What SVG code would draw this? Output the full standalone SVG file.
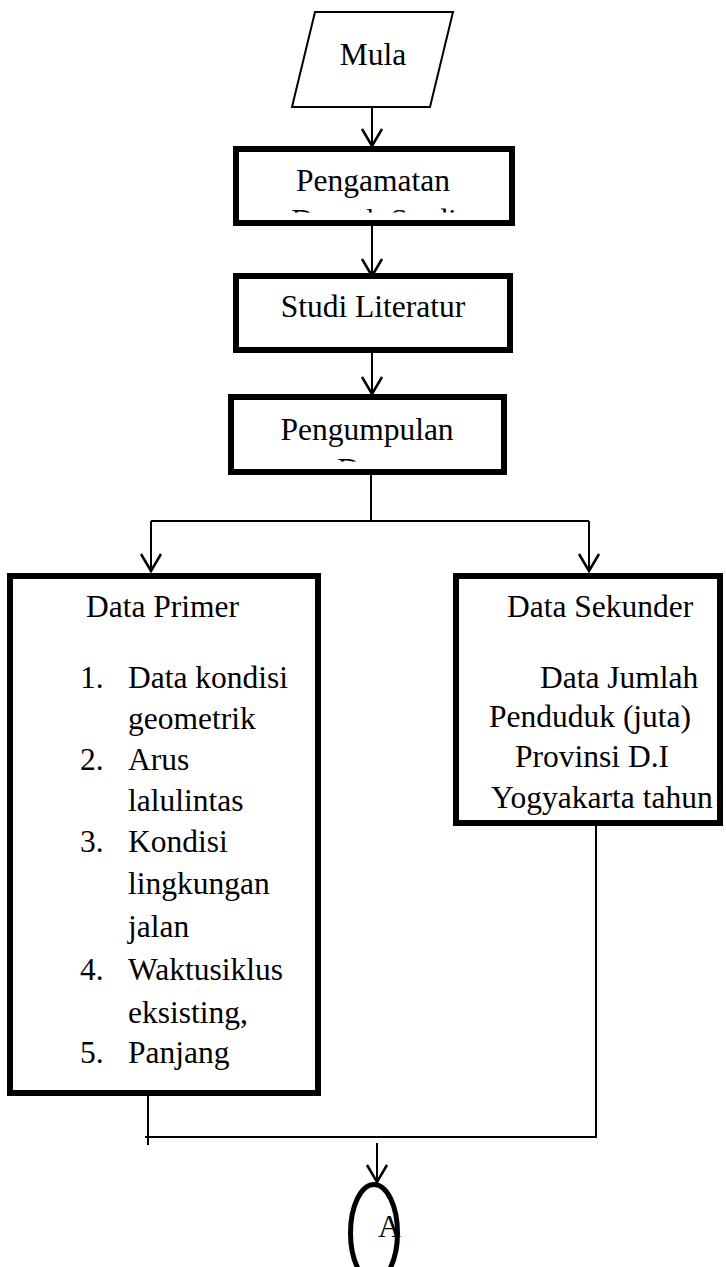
<svg xmlns="http://www.w3.org/2000/svg" width="726" height="1267" viewBox="0 0 726 1267">
<style>
text{font-family:"Liberation Serif","Times New Roman",serif;font-size:31.5px;fill:#000}
.box{fill:#fff;stroke:#000;stroke-width:6}
.thin{fill:#fff;stroke:#000;stroke-width:2}
.c{text-anchor:middle}
.conn path{fill:none;stroke:#000;stroke-width:2}
</style>
<defs>
<marker id="arr" markerUnits="userSpaceOnUse" markerWidth="30" markerHeight="30" refX="0" refY="0" orient="auto" overflow="visible">
<path d="M-17,-10 L0,0 L-17,10" fill="none" stroke="#000" stroke-width="2.5"/>
</marker>
<clipPath id="clip1"><rect x="236" y="149" width="276" height="63.5"/></clipPath>
<clipPath id="clip2"><rect x="231" y="397" width="273" height="64.5"/></clipPath>
</defs>
<rect width="726" height="1267" fill="#fff"/>
<g id="connectors" class="conn">
<path d="M372,107 V146" marker-end="url(#arr)"/>
<path d="M372,226 V276" marker-end="url(#arr)"/>
<path d="M372,353 V394" marker-end="url(#arr)"/>
<path d="M371,475 V521"/>
<path d="M151,521 H589"/>
<path d="M151,521 V571" marker-end="url(#arr)"/>
<path d="M589,521 V571" marker-end="url(#arr)"/>
<path d="M148,1096 V1145"/>
<path d="M596,826 V1137 H145"/>
<path d="M377,1143 V1182" marker-end="url(#arr)"/>
</g>
<g id="mula">
<polygon class="thin" points="315,12 453,12 430,107 292,107"/>
<text class="c" x="373" y="65">Mula</text>
</g>
<g id="pengamatan">
<rect class="box" x="236" y="149" width="276" height="74"/>
<text class="c" x="373" y="191">Pengamatan</text>
<text class="c" x="374" y="231" clip-path="url(#clip1)">Daerah Studi</text>
</g>
<g id="studi">
<rect class="box" x="236" y="276" width="274" height="74"/>
<text class="c" x="373" y="317">Studi Literatur</text>
</g>
<g id="pengumpulan">
<rect class="box" x="231" y="397" width="273" height="75"/>
<text class="c" x="367" y="440">Pengumpulan</text>
<text class="c" x="367" y="480" clip-path="url(#clip2)">Data</text>
</g>
<g id="primer">
<rect class="box" x="10" y="576" width="308" height="517"/>
<text x="86" y="617">Data Primer</text>
<text x="80" y="688">1.</text><text x="128" y="688">Data kondisi</text>
<text x="128" y="729">geometrik</text>
<text x="80" y="770">2.</text><text x="128" y="770">Arus</text>
<text x="128" y="811">lalulintas</text>
<text x="80" y="852">3.</text><text x="128" y="852">Kondisi</text>
<text x="128" y="894">lingkungan</text>
<text x="128" y="937">jalan</text>
<text x="80" y="980">4.</text><text x="128" y="980">Waktusiklus</text>
<text x="128" y="1023">eksisting,</text>
<text x="80" y="1063">5.</text><text x="128" y="1063">Panjang</text>
</g>
<g id="sekunder">
<rect class="box" x="456" y="576" width="264" height="247"/>
<text x="507" y="617">Data Sekunder</text>
<text x="540" y="688">Data Jumlah</text>
<text x="489" y="727">Penduduk (juta)</text>
<text x="515" y="767">Provinsi D.I</text>
<text x="491" y="808">Yogyakarta tahun</text>
</g>
<g id="a">
<ellipse cx="374" cy="1233" rx="23.5" ry="48.5" fill="#fff" stroke="#000" stroke-width="5"/>
<text x="378" y="1237">A</text>
</g>
</svg>
